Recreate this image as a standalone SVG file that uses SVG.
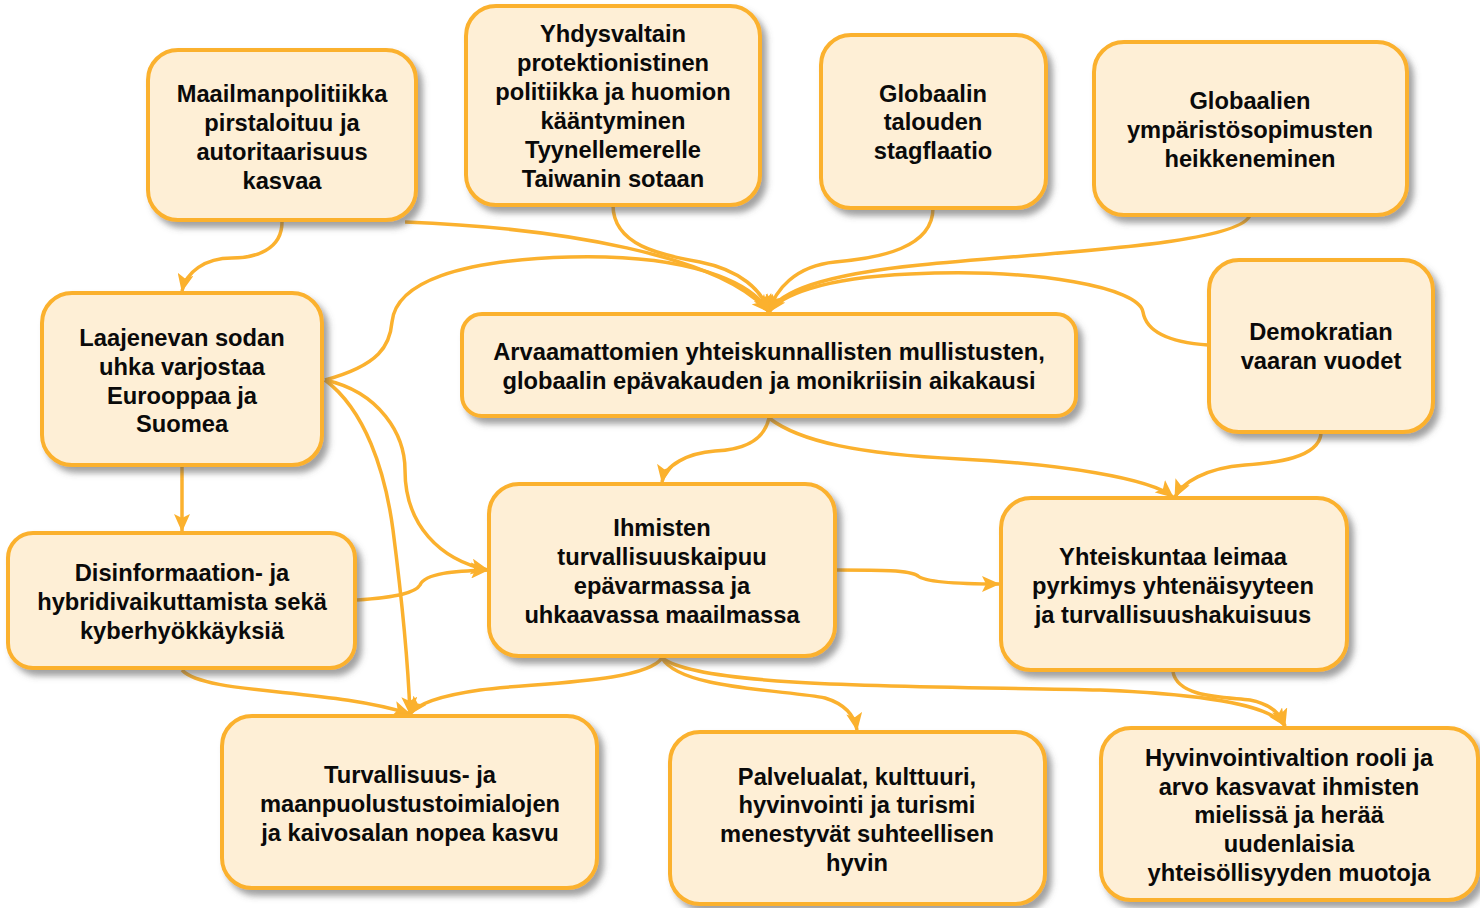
<svg xmlns="http://www.w3.org/2000/svg" width="1480" height="908" viewBox="0 0 1480 908">
<style>
.box{fill:#FEEFD6;stroke:#FBB12E;stroke-width:4;filter:url(#sh)}
.t{font-family:"Liberation Sans",Arial,sans-serif;font-weight:bold;font-size:23.7px;fill:#0a0a0a;text-anchor:middle}
.c{fill:none;stroke:#FBB12E;stroke-width:3.5;marker-end:url(#ah)}
</style>
<defs>
<filter id="sh" x="-10%" y="-10%" width="125%" height="130%">
<feDropShadow dx="5" dy="6" stdDeviation="3" flood-color="#555" flood-opacity="0.55"/>
</filter>
<marker id="ah" viewBox="0 0 18 16" refX="17" refY="8" markerWidth="18" markerHeight="16" orient="auto" markerUnits="userSpaceOnUse">
<path d="M0,0 L18,8 L0,16 L4,8 z" fill="#FBB12E"/>
</marker>
</defs>
<rect width="1480" height="908" fill="#fff"/>

<g id="connectors">
<path class="c" d="M282,222 C282,250 255,258 232,258 C205,258 186,272 182,291"/>
<path class="c" d="M405,222 C560,228 720,255 769,312"/>
<path class="c" d="M613,205 C613,245 660,255 700,262 C740,270 762,290 769,312"/>
<path class="c" d="M933,208 C933,248 880,258 835,262 C795,266 775,290 769,312"/>
<path class="c" d="M1250,215 C1240,245 1050,252 920,265 C820,275 780,292 769,312"/>
<path class="c" d="M1208,345 C1165,342 1146,330 1143,312 C1139,288 1040,268 910,274 C820,278 780,296 769,312"/>
<path class="c" d="M325,380 C380,365 390,345 392,322 C396,282 460,260 570,257 C690,254 752,282 769,312"/>
<path class="c" d="M769,418 C764,442 740,450 715,451 C688,453 665,465 662,482"/>
<path class="c" d="M769,418 C800,442 860,454 960,459 C1060,464 1150,478 1173,497"/>
<path class="c" d="M1321,434 C1318,458 1275,463 1245,465 C1205,468 1182,483 1175,497"/>
<path class="c" d="M182,467 L182,531"/>
<path class="c" d="M325,380 C380,392 405,435 405,470 C405,525 440,560 488,570"/>
<path class="c" d="M325,380 C365,410 385,470 393,530 C402,600 408,660 410,714"/>
<path class="c" d="M357,600 C400,597 416,592 420,585 C425,573 455,571 488,570"/>
<path class="c" d="M182,670 C205,695 330,688 410,714"/>
<path class="c" d="M662,658 C645,683 530,683 480,690 C445,695 418,703 410,714"/>
<path class="c" d="M662,658 C680,690 790,690 825,698 C848,705 855,718 857,730"/>
<path class="c" d="M662,658 C705,690 950,686 1100,690 C1200,694 1270,704 1285,726"/>
<path class="c" d="M1173,672 C1178,698 1225,697 1250,700 C1270,704 1281,714 1285,726"/>
<path class="c" d="M837,570 C880,570 910,570 918,576 C925,582 960,584 999,584"/>
</g>

<g id="n1"><rect class="box" x="148" y="50" width="268" height="170" rx="30"/>
<text class="t" x="282" y="102">Maailmanpolitiikka</text><text class="t" x="282" y="131">pirstaloituu ja</text><text class="t" x="282" y="160">autoritaarisuus</text><text class="t" x="282" y="189">kasvaa</text></g>

<g id="n2"><rect class="box" x="466" y="6" width="294" height="199" rx="30"/>
<text class="t" x="613" y="42">Yhdysvaltain</text><text class="t" x="613" y="71">protektionistinen</text><text class="t" x="613" y="100">politiikka ja huomion</text><text class="t" x="613" y="129">kääntyminen</text><text class="t" x="613" y="158">Tyynellemerelle</text><text class="t" x="613" y="187">Taiwanin sotaan</text></g>

<g id="n3"><rect class="box" x="821" y="35" width="225" height="173" rx="30"/>
<text class="t" x="933" y="102">Globaalin</text><text class="t" x="933" y="130">talouden</text><text class="t" x="933" y="159">stagflaatio</text></g>

<g id="n4"><rect class="box" x="1094" y="42" width="313" height="173" rx="30"/>
<text class="t" x="1250" y="109">Globaalien</text><text class="t" x="1250" y="138">ympäristösopimusten</text><text class="t" x="1250" y="167">heikkeneminen</text></g>

<g id="n5"><rect class="box" x="1209" y="260" width="224" height="172" rx="30"/>
<text class="t" x="1321" y="340">Demokratian</text><text class="t" x="1321" y="369">vaaran vuodet</text></g>

<g id="n6"><rect class="box" x="462" y="314" width="614" height="102" rx="20"/>
<text class="t" x="769" y="360">Arvaamattomien yhteiskunnallisten mullistusten,</text><text class="t" x="769" y="389">globaalin epävakauden ja monikriisin aikakausi</text></g>

<g id="n7"><rect class="box" x="42" y="293" width="280" height="172" rx="30"/>
<text class="t" x="182" y="346">Laajenevan sodan</text><text class="t" x="182" y="375">uhka varjostaa</text><text class="t" x="182" y="404">Eurooppaa ja</text><text class="t" x="182" y="432">Suomea</text></g>

<g id="n8"><rect class="box" x="8" y="533" width="347" height="135" rx="25"/>
<text class="t" x="182" y="581">Disinformaation- ja</text><text class="t" x="182" y="610">hybridivaikuttamista sekä</text><text class="t" x="182" y="639">kyberhyökkäyksiä</text></g>

<g id="n9"><rect class="box" x="489" y="484" width="346" height="172" rx="30"/>
<text class="t" x="662" y="536">Ihmisten</text><text class="t" x="662" y="565">turvallisuuskaipuu</text><text class="t" x="662" y="594">epävarmassa ja</text><text class="t" x="662" y="623">uhkaavassa maailmassa</text></g>

<g id="n10"><rect class="box" x="1001" y="498" width="346" height="172" rx="30"/>
<text class="t" x="1173" y="565">Yhteiskuntaa leimaa</text><text class="t" x="1173" y="594">pyrkimys yhtenäisyyteen</text><text class="t" x="1173" y="623">ja turvallisuushakuisuus</text></g>

<g id="n11"><rect class="box" x="222" y="716" width="375" height="172" rx="30"/>
<text class="t" x="410" y="783">Turvallisuus- ja</text><text class="t" x="410" y="812">maanpuolustustoimialojen</text><text class="t" x="410" y="841">ja kaivosalan nopea kasvu</text></g>

<g id="n12"><rect class="box" x="670" y="732" width="375" height="172" rx="30"/>
<text class="t" x="857" y="785">Palvelualat, kulttuuri,</text><text class="t" x="857" y="813">hyvinvointi ja turismi</text><text class="t" x="857" y="842">menestyvät suhteellisen</text><text class="t" x="857" y="871">hyvin</text></g>

<g id="n13"><rect class="box" x="1101" y="728" width="377" height="172" rx="30"/>
<text class="t" x="1289" y="766">Hyvinvointivaltion rooli ja</text><text class="t" x="1289" y="795">arvo kasvavat ihmisten</text><text class="t" x="1289" y="823">mielissä ja herää</text><text class="t" x="1289" y="852">uudenlaisia</text><text class="t" x="1289" y="881">yhteisöllisyyden muotoja</text></g>
</svg>
